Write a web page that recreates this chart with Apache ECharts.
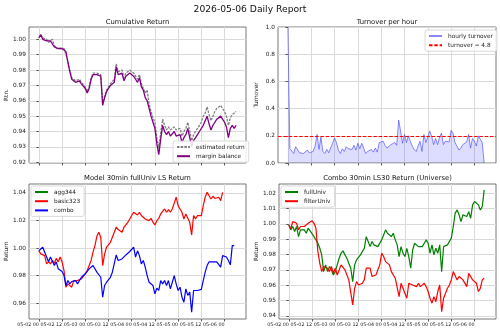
<!DOCTYPE html>
<html>
<head>
<meta charset="utf-8">
<script src="https://cdn.jsdelivr.net/npm/echarts@6/dist/echarts.min.js"></script>
<style>
  html, body { margin: 0; padding: 0; background: #fff; }
  #chart { width: 500px; height: 332px; }
</style>
</head>
<body>
<div id="chart"></div>
<script>
// hourly samples starting 05-02 00:00
const STEP_HOURS = 1;
const X_TICKS = [0, 12, 24, 36, 48, 60, 72, 84, 96];

// Cumulative Return
const estimatedReturn = [
  1.001, 1.003, 1.001, 1.001, 1.000, 0.998, 0.999, 1.000, 0.996, 0.994,
  0.995, 0.994, 0.994, 0.994, 0.993, 0.986, 0.980, 0.975, 0.975, 0.973,
  0.974, 0.974, 0.972, 0.973, 0.969, 0.966, 0.969, 0.975, 0.978, 0.979,
  0.978, 0.979, 0.977, 0.959, 0.963, 0.967, 0.969, 0.971, 0.971, 0.974,
  0.984, 0.979, 0.978, 0.980, 0.975, 0.978, 0.979, 0.980, 0.980, 0.978,
  0.976, 0.974, 0.977, 0.971, 0.970, 0.965, 0.967, 0.958, 0.953, 0.949,
  0.946, 0.936, 0.929, 0.939, 0.948, 0.944, 0.941, 0.943, 0.941, 0.941,
  0.943, 0.941, 0.940, 0.942, 0.937, 0.940, 0.942, 0.946, 0.940, 0.934,
  0.938, 0.940, 0.942, 0.944, 0.946, 0.950, 0.952, 0.956, 0.951, 0.947,
  0.950, 0.953, 0.955, 0.954, 0.957, 0.955, 0.953, 0.950, 0.944, 0.949,
  0.951, 0.950, 0.953
];
const marginBalance = [
  1.001, 1.003, 1.000, 1.001, 0.999, 0.998, 0.999, 1.000, 0.995, 0.994,
  0.994, 0.993, 0.994, 0.993, 0.992, 0.985, 0.979, 0.974, 0.974, 0.972,
  0.973, 0.973, 0.971, 0.972, 0.968, 0.965, 0.968, 0.974, 0.977, 0.978,
  0.977, 0.978, 0.976, 0.957, 0.962, 0.966, 0.968, 0.970, 0.970, 0.972,
  0.982, 0.977, 0.976, 0.978, 0.973, 0.976, 0.977, 0.978, 0.978, 0.976,
  0.974, 0.972, 0.975, 0.969, 0.967, 0.962, 0.960, 0.955, 0.950, 0.946,
  0.942, 0.932, 0.925, 0.935, 0.944, 0.940, 0.938, 0.940, 0.937, 0.938,
  0.940, 0.937, 0.936, 0.938, 0.933, 0.936, 0.938, 0.942, 0.936, 0.930,
  0.934, 0.936, 0.938, 0.940, 0.941, 0.944, 0.947, 0.950, 0.945, 0.941,
  0.944, 0.946, 0.948, 0.947, 0.950, 0.948, 0.946, 0.943, 0.936, 0.942,
  0.944, 0.942, 0.944
];

// Turnover per hour
const hourlyTurnover = [
  1.0, 0.106, 0.10, 0.07, 0.12, 0.11, 0.075, 0.08, 0.07, 0.07,
  0.095, 0.075, 0.07, 0.085, 0.125, 0.21, 0.10, 0.19, 0.085, 0.07,
  0.10, 0.075, 0.085, 0.145, 0.185, 0.15, 0.095, 0.07, 0.105, 0.085,
  0.12, 0.105, 0.11, 0.10, 0.13, 0.095, 0.145, 0.105, 0.145, 0.11,
  0.07, 0.085, 0.08, 0.10, 0.08, 0.11, 0.08, 0.15, 0.155, 0.16,
  0.13, 0.11, 0.105, 0.135, 0.125, 0.15, 0.13, 0.315, 0.235, 0.145,
  0.21, 0.15, 0.20, 0.16, 0.125, 0.10, 0.085, 0.125, 0.16, 0.085,
  0.21, 0.15, 0.16, 0.235, 0.195, 0.135, 0.18, 0.135, 0.185, 0.22,
  0.135, 0.16, 0.17, 0.155, 0.24, 0.22, 0.15, 0.125, 0.095, 0.11,
  0.135, 0.145, 0.155, 0.21, 0.11, 0.18, 0.16, 0.125, 0.20, 0.195,
  0.15, 0.0
];
const turnoverLimit = 0.2;

// Model 30min fullUniv LS Return
const agg344 = [];
const basic323 = [
  0.998, 0.9958, 0.9965, 0.9945, 0.9885, 0.990, 0.9885, 0.991, 0.989, 0.9925,
  0.990, 0.9935, 0.990, 0.9837, 0.9716, 0.974, 0.9752, 0.9716, 0.9764, 0.9752,
  0.9764, 0.9764, 0.9776, 0.9788, 0.9813, 0.9837, 0.9873, 0.991, 0.997, 1.0018,
  1.0086, 1.0115, 1.0078, 0.9873, 0.9958, 1.0006, 1.0018, 1.0042, 1.0054, 1.0115,
  1.0151, 1.0134, 1.0144, 1.0115, 1.0151, 1.0168, 1.0187, 1.0211, 1.0199, 1.026,
  1.0272, 1.024, 1.026, 1.0236, 1.0224, 1.0211, 1.0224, 1.0199, 1.0216, 1.0187,
  1.0168, 1.0199, 1.0216, 1.0248, 1.024, 1.0284, 1.026, 1.0279, 1.026, 1.0284,
  1.0296, 1.0369, 1.0308, 1.0284, 1.026, 1.0211, 1.0248, 1.0236, 1.0187, 1.0095,
  1.0236, 1.0211, 1.0236, 1.0224, 1.0236, 1.0308, 1.0369, 1.0405, 1.038, 1.0356,
  1.0376, 1.036, 1.0356, 1.0369, 1.0344, 1.0405
];
const combo = [
  0.998, 0.9989, 1.0006, 1.0006, 0.9935, 0.990, 0.9935, 0.994, 0.9873, 0.990,
  0.9849, 0.9844, 0.983, 0.980, 0.9728, 0.9764, 0.974, 0.9757, 0.9752, 0.9764,
  0.974, 0.9764, 0.9788, 0.9796, 0.9813, 0.9825, 0.9849, 0.9861, 0.9873, 0.9861,
  0.9825, 0.9837, 0.9788, 0.9643, 0.9728, 0.9752, 0.9764, 0.9788, 0.9825, 0.9837,
  0.995, 0.991, 0.990, 0.9921, 0.9935, 0.995, 0.9945, 0.9975, 0.9965, 1.0006,
  0.9935, 0.998, 0.9945, 0.9885, 0.991, 0.9861, 0.980, 0.9752, 0.9764, 0.9728,
  0.9668, 0.9709, 0.9692, 0.9764, 0.974, 0.9764, 0.9728, 0.9764, 0.9704, 0.9752,
  0.980, 0.974, 0.9692, 0.9716, 0.9643, 0.9607, 0.9704, 0.9656, 0.968, 0.9535,
  0.9692, 0.968, 0.9692, 0.970, 0.970, 0.9764, 0.9825, 0.9873, 0.990, 0.991,
  0.990, 0.991, 0.990, 0.991, 0.9861, 0.9945, 0.9958, 0.9935, 0.991, 0.9878,
  1.0018, 1.0018
];

// Combo 30min LS30 Return (Universe)
const fullUniv = [
  0.9993, 0.9961, 0.9983, 0.995, 0.9983, 0.9917, 0.9961, 0.995, 0.9961, 0.9939,
  0.9972, 0.9954, 0.995, 0.9917, 0.9896, 0.9874, 0.9841, 0.9798, 0.9689, 0.9733,
  0.9689, 0.9722, 0.970, 0.9667, 0.9689, 0.9733, 0.9776, 0.9809, 0.9824, 0.9798,
  0.9776, 0.9743, 0.9711, 0.9624, 0.9733, 0.9765, 0.9776, 0.9798, 0.9809, 0.9841,
  0.9917, 0.9885, 0.9852, 0.9885, 0.9863, 0.9874, 0.9852, 0.9863, 0.9896, 0.9928,
  0.9961, 0.9939, 0.995, 0.9917, 0.9939, 0.9896, 0.9863, 0.9787, 0.9852, 0.9809,
  0.9787, 0.9841, 0.9787, 0.9711, 0.983, 0.9874, 0.9863, 0.9852, 0.9863, 0.9852,
  0.9874, 0.9896, 0.9874, 0.9809, 0.9863, 0.9798, 0.9841, 0.9809, 0.9863, 0.9689,
  0.9852, 0.9841, 0.9863, 0.9863, 0.9907, 0.9983, 1.007, 1.0091, 1.0059, 1.0015,
  1.0059, 1.007, 1.0048, 1.008, 1.0037, 1.0124, 1.0146, 1.0135, 1.0124, 1.0091,
  1.0113, 1.0222
];
const filterUniv = [
  0.9993, 0.9967, 1.0015, 1.0026, 1.0004, 0.9961, 0.9983, 0.9972, 0.9983, 0.9987,
  1.0004, 1.0011, 1.002, 1.0004, 0.9972, 0.982, 0.9743, 0.9689, 0.9722, 0.9733,
  0.9711, 0.9689, 0.9722, 0.9678, 0.9711, 0.9667, 0.9667, 0.9733, 0.9743, 0.970,
  0.9667, 0.9635, 0.9646, 0.9472, 0.958, 0.9624, 0.9602, 0.9613, 0.9613, 0.9635,
  0.9711, 0.970, 0.9711, 0.9657, 0.9646, 0.9667, 0.9678, 0.9733, 0.9809, 0.9787,
  0.9754, 0.9765, 0.9733, 0.9689, 0.970, 0.9646, 0.9635, 0.9526, 0.9613, 0.958,
  0.9591, 0.9515, 0.9613, 0.9624, 0.9602, 0.9613, 0.9591, 0.9613, 0.9591, 0.9602,
  0.9613, 0.9591, 0.9559, 0.9515, 0.9483, 0.9526, 0.9493, 0.9559, 0.9602, 0.9428,
  0.9515, 0.9526, 0.958, 0.9602, 0.9635, 0.9689, 0.9678, 0.9635, 0.9657, 0.9646,
  0.9635, 0.9624, 0.9591, 0.9678, 0.9667, 0.9635, 0.9646, 0.9613, 0.9559, 0.958,
  0.9635, 0.9646
];

const FONT = 'DejaVu Sans';
const pts = (arr) => arr.map((v, i) => [i * STEP_HOURS, v]);
const fmtTime = (h) => {
  const day = 2 + Math.floor(h / 24);
  const hr = h % 24;
  return '05-0' + day + ' ' + (hr < 10 ? '0' + hr : hr);
};

function xAxisFor(gridIndex, showLabel) {
  return {
    type: 'value', gridIndex: gridIndex, min: -5.1, max: 107.1,
    axisLine: { show: false },
    axisTick: { show: true, customValues: X_TICKS, length: 2.5, lineStyle: { color: '#333', width: 0.8 } },
    axisLabel: {
      show: showLabel, customValues: X_TICKS, formatter: fmtTime, align: 'right',
      fontSize: 4.8, margin: 3, color: '#222', fontFamily: FONT
    },
    splitLine: { show: true, lineStyle: { color: '#dadada', width: 1 } }
  };
}

function yAxisFor(gridIndex, min, max, ticks, digits, name, gap) {
  return {
    type: 'value', gridIndex: gridIndex, min: min, max: max,
    name: name, nameLocation: 'middle', nameGap: gap, nameRotate: 90,
    nameTextStyle: { fontSize: 5.8, color: '#222', fontFamily: FONT },
    axisLine: { show: false },
    axisTick: { show: true, customValues: ticks, length: 2.5, lineStyle: { color: '#333', width: 0.8 } },
    axisLabel: {
      customValues: ticks, formatter: (v) => v.toFixed(digits),
      fontSize: 5.8, margin: 3, color: '#222', fontFamily: FONT
    },
    splitLine: { show: true, lineStyle: { color: '#dadada', width: 1 } }
  };
}

function legendFor(names, pos) {
  return Object.assign({
    data: names, orient: 'vertical', itemWidth: 13, itemHeight: 6, itemGap: 3.2,
    padding: [3, 4, 3, 3], backgroundColor: 'rgba(255,255,255,0.85)',
    borderColor: '#d0d0d0', borderWidth: 0.8, borderRadius: 2,
    itemStyle: { opacity: 0 },
    textStyle: { fontSize: 5.8, color: '#222', fontFamily: FONT, padding: [0, 0, 0, 1] },
    selectedMode: false
  }, pos);
}

function titleText(text, x, y, size) {
  return {
    type: 'text', x: x, y: y, silent: true,
    style: { text: text, fontSize: size, fontFamily: FONT, fill: '#111', textAlign: 'center', textVerticalAlign: 'middle' }
  };
}

const gridStyle = { show: true, borderColor: '#555', borderWidth: 0.8, backgroundColor: '#fff' };

const option = {
  animation: false,
  backgroundColor: '#fff',
  textStyle: { fontFamily: FONT },
  graphic: [
    titleText('2026-05-06 Daily Report', 250, 10, 9.2),
    titleText('Cumulative Return', 137.5, 22, 6.8),
    titleText('Turnover per hour', 387, 22, 6.8),
    titleText('Model 30min fullUniv LS Return', 137.5, 178.5, 6.8),
    titleText('Combo 30min LS30 Return (Universe)', 387.5, 178.5, 6.8)
  ],
  grid: [
    Object.assign({ left: 29, top: 27, width: 217, height: 136 }, gridStyle),
    Object.assign({ left: 278, top: 27, width: 218, height: 136 }, gridStyle),
    Object.assign({ left: 29, top: 184, width: 217, height: 135 }, gridStyle),
    Object.assign({ left: 279, top: 184, width: 217, height: 135 }, gridStyle)
  ],
  xAxis: [xAxisFor(0, false), xAxisFor(1, false), xAxisFor(2, true), xAxisFor(3, true)],
  yAxis: [
    yAxisFor(0, 0.9195, 1.008, [0.92, 0.93, 0.94, 0.95, 0.96, 0.97, 0.98, 0.99, 1.00], 2, 'Rtn.', 20),
    yAxisFor(1, 0, 1, [0, 0.2, 0.4, 0.6, 0.8, 1.0], 1, 'Turnover', 19),
    yAxisFor(2, 0.9485, 1.0465, [0.96, 0.98, 1.00, 1.02, 1.04], 2, 'Return', 20),
    yAxisFor(3, 0.938, 1.026, [0.94, 0.95, 0.96, 0.97, 0.98, 0.99, 1.00, 1.01, 1.02], 2, 'Return', 20)
  ],
  legend: [
    legendFor(['estimated return', 'margin balance'], { left: 173, top: 141 }),
    legendFor(['hourly turnover', 'turnover = 4.8'], { left: 425, top: 30 }),
    legendFor(['agg344', 'basic323', 'combo'], { left: 31, top: 186 }),
    legendFor(['fullUniv', 'filterUniv'], { left: 281, top: 186 })
  ],
  series: [
    {
      name: 'estimated return', type: 'line', xAxisIndex: 0, yAxisIndex: 0,
      data: pts(estimatedReturn), symbol: 'none', color: '#808080',
      lineStyle: { color: '#808080', width: 1.3, type: [2.5, 1.2] }
    },
    {
      name: 'margin balance', type: 'line', xAxisIndex: 0, yAxisIndex: 0,
      data: pts(marginBalance), symbol: 'none', color: '#800080',
      lineStyle: { color: '#800080', width: 1.3 }
    },
    {
      name: 'hourly turnover', type: 'line', xAxisIndex: 1, yAxisIndex: 1,
      data: pts(hourlyTurnover), symbol: 'none', color: 'rgba(60,60,255,0.6)',
      lineStyle: { color: 'rgba(60,60,255,0.6)', width: 1 },
      areaStyle: { color: 'rgba(60,60,255,0.25)', origin: 'start' }
    },
    {
      name: 'turnover = 4.8', type: 'line', xAxisIndex: 1, yAxisIndex: 1,
      data: [], symbol: 'none', color: '#ff0000',
      lineStyle: { color: '#ff0000', width: 1.2, type: [3.5, 1.8] },
      markLine: {
        silent: true, symbol: 'none', label: { show: false },
        lineStyle: { color: '#ff0000', width: 1.2, type: [3.5, 1.8] },
        data: [{ yAxis: turnoverLimit }]
      }
    },
    {
      name: 'agg344', type: 'line', xAxisIndex: 2, yAxisIndex: 2,
      data: pts(agg344), symbol: 'none', color: '#008000',
      lineStyle: { color: '#008000', width: 1.2 }
    },
    {
      name: 'basic323', type: 'line', xAxisIndex: 2, yAxisIndex: 2,
      data: pts(basic323), symbol: 'none', color: '#ff0000',
      lineStyle: { color: '#ff0000', width: 1.2 }
    },
    {
      name: 'combo', type: 'line', xAxisIndex: 2, yAxisIndex: 2,
      data: pts(combo), symbol: 'none', color: '#0000ff',
      lineStyle: { color: '#0000ff', width: 1.2 }
    },
    {
      name: 'fullUniv', type: 'line', xAxisIndex: 3, yAxisIndex: 3,
      data: pts(fullUniv), symbol: 'none', color: '#008000',
      lineStyle: { color: '#008000', width: 1.2 }
    },
    {
      name: 'filterUniv', type: 'line', xAxisIndex: 3, yAxisIndex: 3,
      data: pts(filterUniv), symbol: 'none', color: '#ff0000',
      lineStyle: { color: '#ff0000', width: 1.2 }
    }
  ]
};

const chart = echarts.init(document.getElementById('chart'), null, { renderer: 'canvas' });
chart.setOption(option);
</script>
</body>
</html>
